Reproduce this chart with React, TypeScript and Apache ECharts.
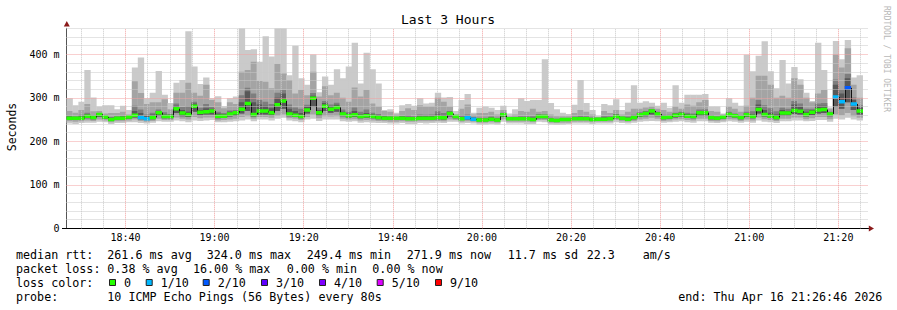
import React, { useEffect, useRef } from 'react';
import * as echarts from 'echarts';

// ---- time frame (minutes since midnight) ----
const START_MIN = 18 * 60 + 26 + 46 / 60; // 18:26:46
const SPAN_MIN = 180;
const END_MIN = START_MIN + SPAN_MIN;
const STEP_MIN = 80 / 60; // one probe every 80 s
const Y_MAX = 460;

const xTickLabels = ['18:40', '19:00', '19:20', '19:40', '20:00', '20:20', '20:40', '21:00', '21:20'];
const yTickValues = [0, 100, 200, 300, 400];
const yTickLabels = ['0', '100 m', '200 m', '300 m', '400 m'];

// ---- smoke: sorted ping percentiles per 80 s step (ms) ----
const pMax = [
  299, 283, 291, 364, 301, 280, 283, 283, 274, 282,
  272, 370, 393, 299, 312, 362, 307, 288, 335, 341,
  453, 372, 332, 347, 299, 304, 281, 299, 303, 460,
  410, 412, 383, 442, 395, 460, 460, 352, 420, 345,
  330, 400, 313, 349, 330, 366, 345, 372, 427, 333,
  404, 366, 333, 272, 274, 266, 283, 286, 282, 299,
  287, 289, 312, 301, 302, 270, 295, 309, 266, 277,
  280, 277, 272, 282, 264, 274, 299, 293, 295, 295,
  389, 288, 274, 266, 263, 284, 341, 288, 272, 259,
  286, 283, 297, 272, 289, 329, 289, 292, 289, 282,
  289, 277, 329, 289, 307, 307, 307, 309, 280, 280,
  264, 299, 289, 282, 399, 361, 397, 430, 361, 322,
  387, 333, 371, 343, 312, 293, 427, 364, 278, 431,
  389, 433, 347, 352,
];
const p9 = [
  270, 266, 272, 286, 269, 270, 264, 265, 265, 268,
  262, 338, 311, 286, 290, 290, 297, 274, 312, 312,
  335, 312, 305, 330, 295, 290, 276, 290, 286, 360,
  364, 383, 339, 337, 322, 378, 356, 341, 310, 318,
  306, 360, 303, 327, 306, 312, 300, 291, 324, 303,
  318, 287, 280, 270, 268, 262, 270, 276, 272, 283,
  280, 280, 300, 291, 280, 262, 275, 285, 262, 265,
  265, 268, 262, 272, 258, 262, 270, 268, 275, 268,
  270, 262, 258, 258, 258, 265, 272, 268, 262, 256,
  270, 265, 272, 262, 268, 275, 275, 278, 280, 275,
  272, 268, 280, 275, 285, 282, 290, 295, 270, 268,
  262, 280, 275, 268, 282, 300, 351, 351, 330, 300,
  305, 300, 345, 330, 300, 290, 310, 318, 275, 400,
  370, 414, 330, 300,
];
const p8 = [
  259, 258, 261, 266, 260, 265, 259, 256, 258, 259,
  259, 282, 273, 262, 266, 273, 267, 263, 287, 279,
  281, 291, 277, 286, 279, 268, 265, 271, 272, 306,
  323, 310, 295, 291, 286, 312, 318, 285, 278, 275,
  284, 311, 277, 293, 285, 289, 273, 268, 278, 268,
  273, 266, 263, 259, 258, 256, 259, 260, 258, 262,
  261, 262, 269, 265, 270, 260, 260, 262, 256, 254,
  254, 257, 254, 266, 255, 256, 258, 258, 258, 262,
  262, 254, 252, 253, 253, 257, 259, 258, 255, 254,
  258, 258, 263, 257, 257, 261, 267, 270, 274, 268,
  261, 261, 266, 268, 266, 264, 273, 274, 260, 258,
  259, 268, 264, 260, 268, 269, 295, 283, 276, 269,
  277, 275, 293, 287, 275, 275, 287, 288, 268, 342,
  320, 355, 301, 283,
];
const p7 = [
  257, 256, 258, 262, 258, 264, 258, 254, 256, 257,
  258, 270, 265, 258, 262, 270, 262, 261, 282, 272,
  268, 287, 272, 276, 275, 264, 262, 268, 270, 290,
  315, 290, 285, 282, 276, 300, 310, 275, 270, 265,
  280, 305, 272, 288, 280, 284, 268, 264, 270, 262,
  265, 262, 260, 257, 256, 255, 257, 256, 256, 258,
  258, 258, 262, 260, 268, 259, 256, 258, 254, 252,
  252, 255, 252, 265, 254, 255, 256, 256, 254, 261,
  260, 252, 251, 252, 252, 255, 256, 256, 253, 253,
  255, 256, 261, 256, 255, 259, 265, 268, 273, 267,
  259, 259, 264, 266, 263, 261, 270, 270, 258, 256,
  258, 266, 262, 258, 265, 262, 285, 272, 266, 262,
  272, 270, 285, 280, 268, 272, 282, 282, 266, 330,
  310, 345, 295, 278,
];
const median = [
  253, 253, 253, 258, 255, 262, 256, 250, 253, 253,
  256, 260, 255, 252, 255, 266, 257, 257, 275, 265,
  262, 281, 267, 268, 270, 258, 258, 263, 266, 274,
  287, 262, 270, 270, 266, 284, 293, 263, 260, 257,
  272, 299, 266, 281, 274, 278, 263, 259, 261, 257,
  259, 257, 255, 253, 253, 253, 253, 252, 252, 253,
  253, 253, 255, 254, 264, 257, 252, 254, 251, 249,
  249, 251, 249, 261, 252, 252, 252, 252, 250, 257,
  257, 249, 248, 250, 250, 252, 252, 252, 250, 251,
  251, 252, 257, 253, 251, 255, 261, 264, 270, 263,
  255, 256, 260, 262, 258, 257, 266, 266, 255, 253,
  256, 262, 259, 255, 261, 257, 273, 262, 258, 255,
  265, 265, 271, 269, 262, 267, 272, 273, 263, 302,
  291, 323, 286, 270,
];
const p4 = [
  250, 249, 250, 253, 251, 256, 252, 247, 250, 250,
  252, 255, 251, 249, 251, 259, 253, 253, 265, 258,
  256, 268, 260, 262, 262, 253, 254, 257, 259, 264,
  270, 257, 262, 262, 260, 270, 275, 258, 256, 253,
  264, 280, 259, 270, 266, 268, 258, 255, 256, 253,
  254, 253, 251, 250, 249, 249, 250, 249, 249, 250,
  250, 250, 251, 250, 257, 253, 249, 250, 248, 246,
  246, 248, 246, 256, 249, 249, 249, 249, 247, 253,
  253, 246, 245, 247, 247, 249, 249, 249, 247, 248,
  248, 249, 253, 250, 248, 251, 256, 258, 262, 258,
  251, 252, 255, 257, 254, 253, 259, 259, 251, 250,
  252, 257, 255, 251, 256, 253, 264, 257, 254, 251,
  259, 259, 263, 262, 257, 260, 264, 265, 258, 280,
  275, 290, 272, 262,
];
const p2 = [
  246, 245, 246, 248, 247, 250, 248, 244, 246, 246,
  248, 250, 247, 245, 247, 252, 249, 249, 255, 252,
  250, 256, 253, 255, 255, 248, 249, 250, 252, 256,
  258, 252, 256, 256, 254, 259, 262, 253, 252, 249,
  256, 262, 253, 258, 257, 258, 252, 250, 251, 248,
  249, 248, 247, 246, 245, 245, 246, 245, 245, 246,
  246, 246, 247, 246, 250, 249, 245, 246, 245, 243,
  243, 244, 243, 250, 245, 245, 245, 245, 244, 249,
  249, 243, 242, 243, 243, 245, 245, 245, 244, 245,
  245, 245, 249, 246, 245, 247, 250, 252, 254, 252,
  247, 248, 250, 251, 249, 248, 252, 252, 247, 246,
  248, 251, 250, 247, 250, 248, 255, 251, 249, 247,
  252, 252, 255, 255, 251, 253, 256, 256, 251, 262,
  260, 265, 258, 254,
];
const pMin = [
  241, 240, 242, 243, 243, 245, 244, 240, 242, 242,
  244, 244, 242, 241, 243, 246, 245, 245, 248, 246,
  244, 248, 247, 248, 249, 244, 244, 245, 246, 248,
  250, 246, 250, 250, 248, 252, 254, 248, 246, 244,
  250, 252, 247, 250, 250, 250, 246, 245, 246, 243,
  244, 243, 242, 242, 241, 241, 242, 240, 240, 242,
  241, 242, 243, 242, 245, 245, 241, 242, 241, 239,
  239, 240, 239, 245, 241, 241, 241, 240, 240, 245,
  244, 239, 238, 239, 240, 241, 241, 241, 240, 241,
  241, 241, 244, 242, 241, 243, 245, 246, 247, 246,
  243, 244, 245, 246, 244, 243, 246, 246, 243, 242,
  244, 246, 245, 243, 245, 243, 248, 245, 244, 242,
  246, 246, 248, 248, 246, 247, 249, 249, 245, 252,
  250, 254, 250, 248,
];
// loss per step, index into lossColors (0 = no loss, 1 = 1/10, 2 = 2/10 ...)
const lossIdx = [
  0, 0, 0, 0, 0, 0, 0, 0, 0, 0,
  0, 0, 1, 1, 0, 0, 0, 0, 0, 0,
  0, 0, 0, 0, 0, 0, 0, 0, 0, 0,
  0, 0, 0, 0, 0, 0, 0, 0, 0, 0,
  0, 0, 0, 0, 0, 0, 0, 0, 0, 0,
  0, 0, 0, 0, 0, 0, 0, 0, 0, 0,
  0, 0, 0, 0, 0, 0, 0, 1, 1, 0,
  0, 0, 0, 0, 0, 0, 0, 0, 0, 0,
  0, 0, 0, 0, 0, 0, 0, 0, 0, 0,
  0, 0, 0, 0, 0, 0, 0, 0, 0, 0,
  0, 0, 0, 0, 0, 0, 0, 0, 0, 0,
  0, 0, 0, 0, 0, 0, 0, 0, 0, 0,
  0, 0, 0, 0, 0, 0, 0, 0, 0, 1,
  1, 2, 1, 0,
];

const lossColors = ['#26ff00', '#00b8ff', '#0059ff', '#5e00ff', '#7e00ff', '#dd00ff', '#ff0000'];
const lossLabels = ['0', '1/10', '2/10', '3/10', '4/10', '5/10', '9/10'];

const rttStats = ['261.6 ms avg', '324.0 ms max', '249.4 ms min', '271.9 ms now', '11.7 ms sd', '22.3', 'am/s'];
const lossStats = ['0.38 % avg', '16.00 % max', '0.00 % min', '0.00 % now'];
const probeText = '10 ICMP Echo Pings (56 Bytes) every 80s';
const endText = 'end: Thu Apr 16 21:26:46 2026';
const titleText = 'Last 3 Hours';

// ---- layout (pixel positions of text, not data) ----
const MONO = '"DejaVu Sans Mono", monospace';
const LEG_FONT = `11.7px ${MONO}`;
const rttX = [107.3, 206.7, 306.7, 406.7, 507.7, 586.7, 642.7];
const lossX = [107.3, 193, 286.7, 372.3];
const swatchX = [109, 145.7, 202.7, 261, 319, 376.7, 435];
const LINE_Y = [255, 269, 283.3, 297.3];

const toMin = (s: string) => {
  const [h, m] = s.split(':').map(Number);
  return h * 60 + m;
};
const majorX = xTickLabels.map(toMin);

const MINOR_COLOR = '#c8c8c8';
const MAJOR_COLOR = '#f2a0a0';

function buildOption() {
  const smokeData = median.map((m, i) => [
    START_MIN + i * STEP_MIN,
    START_MIN + (i + 1) * STEP_MIN,
    pMin[i], pMax[i], p2[i], p9[i], p4[i], p8[i], p7[i], m,
  ]);
  const medData = median.map((m, i) => [
    START_MIN + i * STEP_MIN,
    m,
    START_MIN + (i + 1) * STEP_MIN,
    i > 0 ? median[i - 1] : m,
    lossIdx[i],
  ]);

  // vertical grid: every 5 minutes (minor) and every 20 minutes (major)
  const vLines: any[] = [];
  for (let t = Math.ceil(START_MIN / 5) * 5; t <= END_MIN; t += 5) {
    const major = majorX.some((v) => Math.abs(v - t) < 1e-6);
    vLines.push({
      xAxis: t,
      lineStyle: { color: major ? MAJOR_COLOR : MINOR_COLOR, width: 1, type: [1, 1] },
    });
  }
  // horizontal grid: every 20 ms (minor) and every 100 ms (major)
  const hLines: any[] = [];
  for (let v = 20; v <= Y_MAX; v += 20) {
    const major = yTickValues.indexOf(v) >= 0;
    hLines.push({
      yAxis: v,
      lineStyle: { color: major ? MAJOR_COLOR : MINOR_COLOR, width: 1, type: [1, 1] },
    });
  }

  const bandDefs: [number, number, string][] = [
    [2, 3, '#cacaca'],
    [4, 5, '#a4a4a4'],
    [6, 7, '#7e7e7e'],
    [6, 8, '#585858'],
  ];

  const graphics: any[] = [];
  const txt = (text: string, x: number, y: number, extra: any = {}) => ({
    type: 'text',
    x,
    y,
    silent: true,
    style: {
      text,
      fill: '#000',
      font: LEG_FONT,
      align: 'left',
      verticalAlign: 'middle',
      ...extra,
    },
  });
  graphics.push(txt(titleText, 448, 19.5, { font: `13px ${MONO}`, align: 'center' }));
  graphics.push({
    type: 'text', x: 11.5, y: 127, rotation: Math.PI / 2, silent: true,
    style: { text: 'Seconds', fill: '#000', font: `11.5px ${MONO}`, align: 'center', verticalAlign: 'middle' },
  });
  graphics.push({
    type: 'text', x: 886.5, y: 59, rotation: -Math.PI / 2, silent: true,
    style: { text: 'RRDTOOL / TOBI OETIKER', fill: '#b8b8b8', font: `8px ${MONO}`, align: 'center', verticalAlign: 'middle' },
  });
  // axis arrows
  graphics.push({
    type: 'polygon', silent: true,
    shape: { points: [[63.8, 26.5], [69.8, 26.5], [66.8, 21]] },
    style: { fill: '#8b1a1a' },
  });
  graphics.push({
    type: 'polygon', silent: true,
    shape: { points: [[868.8, 225.5], [868.8, 231.5], [874, 228.5]] },
    style: { fill: '#8b1a1a' },
  });
  graphics.push({
    type: 'line', silent: true,
    shape: { x1: 62, y1: 228.5, x2: 67, y2: 228.5 },
    style: { stroke: '#000', lineWidth: 1 },
  });

  graphics.push(txt('median rtt:', 16, LINE_Y[0]));
  rttStats.forEach((s, i) => graphics.push(txt(s, rttX[i], LINE_Y[0])));
  graphics.push(txt('packet loss:', 16, LINE_Y[1]));
  lossStats.forEach((s, i) => graphics.push(txt(s, lossX[i], LINE_Y[1])));
  graphics.push(txt('loss color:', 16, LINE_Y[2]));
  lossLabels.forEach((s, i) => {
    graphics.push({
      type: 'rect', silent: true,
      shape: { x: swatchX[i] + 0.5, y: 279.5, width: 6, height: 6 },
      style: { fill: lossColors[i], stroke: '#222', lineWidth: 1 },
    });
    graphics.push(txt(s, swatchX[i] + 15, LINE_Y[2]));
  });
  graphics.push(txt('probe:', 16, LINE_Y[3]));
  graphics.push(txt(probeText, 107.3, LINE_Y[3]));
  graphics.push(txt(endText, 678.3, LINE_Y[3]));

  return {
    animation: false,
    backgroundColor: '#ffffff',
    grid: { left: 66.5, right: 28.5, top: 28.3, bottom: 81.7, containLabel: false },
    xAxis: {
      type: 'value',
      min: START_MIN,
      max: END_MIN,
      splitLine: { show: false },
      axisTick: { show: false },
      axisLine: { show: true, lineStyle: { color: '#000', width: 1 } },
      axisLabel: {
        customValues: majorX,
        margin: 4,
        color: '#000',
        fontFamily: MONO,
        fontSize: 10,
        formatter: (v: number) => {
          const k = majorX.findIndex((m) => Math.abs(m - v) < 1e-3);
          return k >= 0 ? xTickLabels[k] : '';
        },
      },
    },
    yAxis: {
      type: 'value',
      min: 0,
      max: Y_MAX,
      interval: 100,
      splitLine: { show: false },
      axisTick: { show: false },
      axisLine: { show: true, lineStyle: { color: '#555', width: 1 } },
      axisLabel: {
        margin: 7,
        color: '#000',
        fontFamily: MONO,
        fontSize: 10,
        formatter: (v: number) => {
          const k = yTickValues.indexOf(v);
          return k >= 0 ? yTickLabels[k] : '';
        },
      },
    },
    graphic: graphics,
    series: [
      {
        type: 'custom',
        name: 'smoke',
        z: 1,
        silent: true,
        clip: true,
        encode: { x: [0, 1], y: [2, 3] },
        data: smokeData,
        renderItem: (_p: any, api: any) => {
          const t0 = api.value(0);
          const t1 = api.value(1);
          const children = bandDefs.map(([lo, hi, c]) => {
            const a = api.coord([t0, api.value(hi)]);
            const b = api.coord([t1, api.value(lo)]);
            return {
              type: 'rect',
              shape: { x: a[0], y: a[1], width: b[0] - a[0] + 0.4, height: b[1] - a[1] },
              style: { fill: c },
            };
          });
          return { type: 'group', children };
        },
      },
      {
        type: 'line',
        name: 'grid',
        z: 2,
        silent: true,
        data: [],
        markLine: {
          silent: true,
          symbol: ['none', 'none'],
          label: { show: false },
          emphasis: { disabled: true },
          animation: false,
          data: [...vLines, ...hLines],
        },
      },
      {
        type: 'custom',
        name: 'median',
        z: 3,
        silent: true,
        clip: true,
        encode: { x: [0, 2], y: [1, 3] },
        data: medData,
        renderItem: (_p: any, api: any) => {
          const a = api.coord([api.value(0), api.value(1)]);
          const b = api.coord([api.value(2), api.value(1)]);
          const prev = api.coord([api.value(0), api.value(3)]);
          const lx = Math.round(a[0]) + 0.5;
          return {
            type: 'group',
            children: [
              {
                type: 'line',
                shape: { x1: lx, y1: prev[1], x2: lx, y2: a[1] },
                style: { stroke: '#111', lineWidth: 1 },
              },
              {
                type: 'rect',
                shape: { x: a[0], y: a[1] - 1.75, width: b[0] - a[0] + 0.4, height: 3.5 },
                style: { fill: lossColors[api.value(4)] },
              },
            ],
          };
        },
      },
    ],
  };
}

export default function App() {
  const ref = useRef<HTMLDivElement>(null);
  useEffect(() => {
    if (!ref.current) return;
    const chart = echarts.init(ref.current, null, { renderer: 'svg' });
    chart.setOption(buildOption() as any);
    return () => chart.dispose();
  }, []);
  return (
    <div
      ref={ref}
      style={{ position: 'fixed', left: 0, top: 0, width: 897, height: 310, background: '#fff' }}
    />
  );
}
